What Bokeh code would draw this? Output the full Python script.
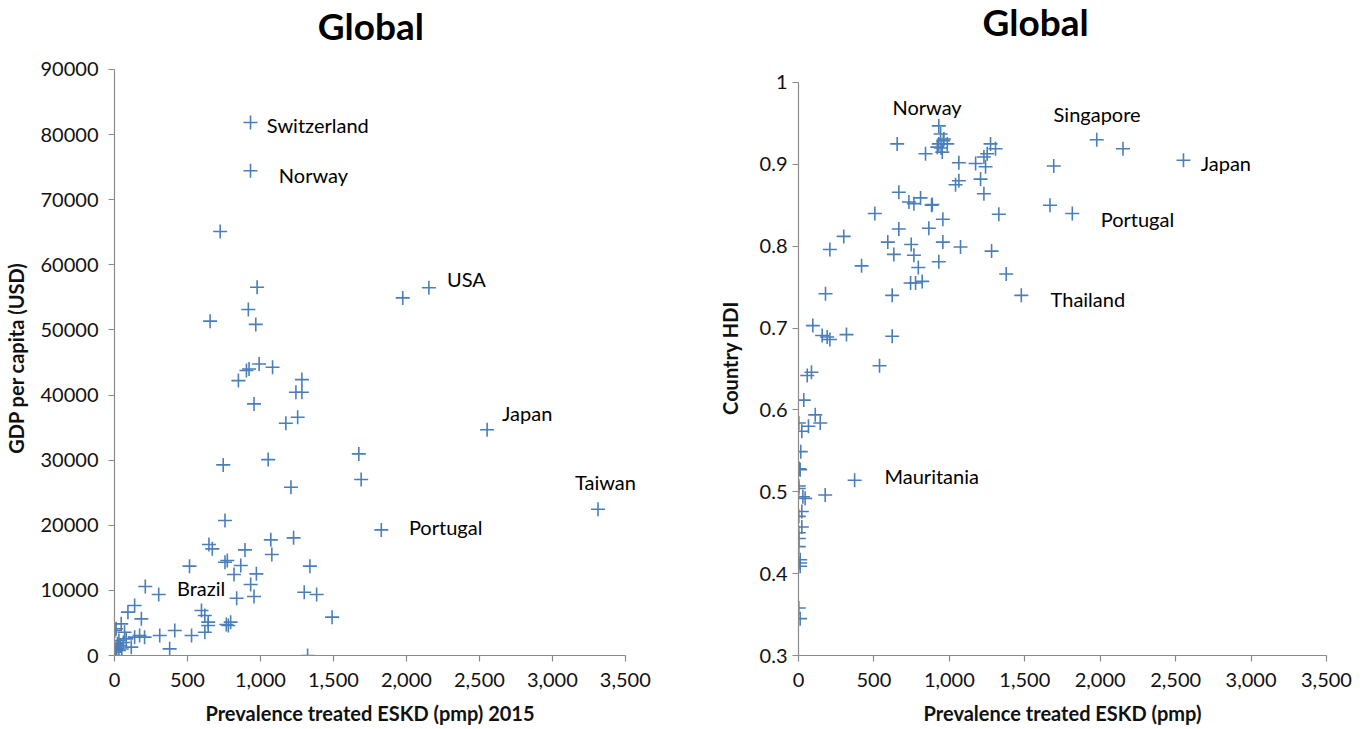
from bokeh.plotting import figure
from bokeh.layouts import row
from bokeh.models import ColumnDataSource, Range1d, FixedTicker, NumeralTickFormatter, Label
from bokeh.core.properties import value
from bokeh.embed import file_html
from bokeh.resources import INLINE

# ---------------- data: left panel (GDP per capita vs prevalence) ----------------
gdp_eskd = [932, 932, 724, 977, 917, 655, 968, 1975, 2154,
            991, 922, 904, 1083, 849, 1284, 1243, 1284, 956, 1255, 1174,
            1674, 1053, 745, 1690, 1209, 757, 1828, 1227, 1071, 647,
            670, 894, 1078, 773, 757, 865, 514, 1339, 819, 972,
            933, 211, 303, 1300, 1385, 837, 956, 596, 619, 1491,
            642, 642, 766, 796, 780, 413, 310, 528, 619, 378,
            1323, 2553, 3313,
            138, 92, 184, 46, 11, 3, 69, 172, 138, 206,
            80, 115, 30, 20, 2, 15, 30, 4, 10, 40, 50, 60]
gdp_usd = [81870, 74460, 65110, 56560, 53130, 51350, 50850, 54920, 56490,
           44780, 44010, 43760, 44270, 42220, 42370, 40430, 40430, 38640, 36590, 35670,
           30960, 30090, 29270, 27020, 25840, 20730, 19290, 18070, 17760, 17040,
           16380, 16220, 15510, 14590, 14330, 13820, 13720, 13720, 12440, 12540,
           10900, 10590, 9370, 9720, 9370, 8800, 9060, 6910, 6140, 5890,
           5120, 4610, 4760, 5120, 4610, 3840, 3070, 3070, 3580, 1020,
           0, 34660, 22470,
           7680, 6660, 5630, 4860, 4100, 3840, 3580, 3070, 2820, 2820,
           2560, 1280, 2300, 1790, 1280, 1020, 770, 510, 0, 1500, 1000, 2000]

gdp_label_names = ["Switzerland", "Norway", "USA", "Japan", "Taiwan", "Portugal", "Brazil"]
gdp_label_x = [1044, 1126, 2278, 2655, 3155, 2017, 428]
gdp_label_y = [81550, 73720, 57900, 37320, 26720, 19810, 10440]

# ---------------- data: right panel (HDI vs prevalence) ----------------
hdi_eskd = [930, 942, 964, 930, 986, 920, 953, 960, 945,
            654, 842, 1063, 1174, 1240, 1273, 1306, 1251, 1229, 1063, 1041,
            1207, 1229, 665, 732, 765, 809, 887, 1328,
            1977, 2151, 2552, 1692, 1667, 1815,
            506, 300, 208, 418, 179, 95, 157, 190, 208, 318, 621, 537, 58, 86, 35,
            665, 592, 632, 747, 765, 794, 743, 776, 820, 621, 864, 930, 957, 957, 1074,
            882, 1280, 1377, 1477,
            111, 144, 2, 66, 22, 15, 2, 11, 5, 2, 2, 29, 44, 177, 22, 2, 22, 2, 2, 2,
            11, 11, 11, 2, 11, 372]
hdi_value = [0.947, 0.937, 0.931, 0.925, 0.925, 0.921, 0.915, 0.929, 0.920,
             0.925, 0.913, 0.902, 0.901, 0.897, 0.925, 0.919, 0.913, 0.909, 0.880, 0.875,
             0.882, 0.864, 0.866, 0.854, 0.852, 0.859, 0.851, 0.839,
             0.930, 0.919, 0.905, 0.898, 0.850, 0.840,
             0.840, 0.812, 0.796, 0.776, 0.742, 0.703, 0.691, 0.689, 0.686, 0.692, 0.690, 0.654, 0.642, 0.646, 0.612,
             0.821, 0.805, 0.790, 0.802, 0.789, 0.774, 0.755, 0.755, 0.757, 0.740, 0.822, 0.781, 0.833, 0.805, 0.799,
             0.850, 0.794, 0.766, 0.740,
             0.594, 0.584, 0.584, 0.580, 0.574, 0.549, 0.528, 0.527, 0.528, 0.507, 0.504, 0.494, 0.492, 0.496, 0.476, 0.470, 0.457, 0.450, 0.443, 0.433,
             0.417, 0.413, 0.409, 0.358, 0.345, 0.514]

hdi_label_names = ["Norway", "Singapore", "Japan", "Portugal", "Thailand", "Mauritania"]
hdi_label_x = [623, 1691, 2666, 2003, 1671, 570]
hdi_label_y = [0.9695, 0.962, 0.902, 0.833, 0.735, 0.519]

x_ticks = [0, 500, 1000, 1500, 2000, 2500, 3000, 3500]
gdp_ticks = [0, 10000, 20000, 30000, 40000, 50000, 60000, 70000, 80000, 90000]
hdi_ticks = [0.3, 0.4, 0.5, 0.6, 0.7, 0.8, 0.9, 1.0]
hdi_tick_labels = ["0.3", "0.4", "0.5", "0.6", "0.7", "0.8", "0.9", "1"]

titles = ["Global", "Global"]
x_titles = ["Prevalence treated ESKD (pmp) 2015", "Prevalence treated ESKD (pmp)"]
y_titles = ["GDP per capita (USD)", "Country HDI"]

# ---------------- styling ----------------
FONT = "Lato"
BLUE = "#4a7ebb"
AXIS_GREY = "#8a8a8a"
TXT = "#111111"
EM = "\u2003"  # em space, used only to nudge centred axis titles


def style_axes(p, ytick_standoff, ylab_standoff):
    for ax in (p.xaxis[0], p.yaxis[0]):
        ax.axis_line_color = AXIS_GREY
        ax.axis_line_width = 1.2
        ax.major_tick_line_color = AXIS_GREY
        ax.major_tick_line_width = 1.2
        ax.major_tick_in = 0
        ax.major_tick_out = 6
        ax.minor_tick_line_color = None
        ax.major_label_text_font = FONT
        ax.major_label_text_font_size = "20px"
        ax.major_label_text_color = TXT
        ax.axis_label_text_font = FONT
        ax.axis_label_text_font_style = "bold"
        ax.axis_label_text_font_size = "20px"
        ax.axis_label_text_color = TXT
    p.xaxis[0].major_label_standoff = 11
    p.xaxis[0].axis_label_standoff = 11
    p.yaxis[0].major_label_standoff = ytick_standoff
    p.yaxis[0].axis_label_standoff = ylab_standoff
    p.xgrid.visible = False
    p.ygrid.visible = False
    p.outline_line_color = None


# ---------------- left figure ----------------
p1 = figure(width=680, height=729, output_backend="svg", toolbar_location=None,
            x_range=Range1d(0, 3604), y_range=Range1d(0, 100597),
            min_border_left=114, min_border_right=40, min_border_top=0, min_border_bottom=74,
            x_axis_label=x_titles[0] + EM, y_axis_label=y_titles[0] + EM * 4)
p1.xaxis[0].ticker = FixedTicker(ticks=x_ticks)
p1.xaxis[0].formatter = NumeralTickFormatter(format="0,0")
p1.xaxis[0].bounds = (0, 3500)
p1.yaxis[0].ticker = FixedTicker(ticks=gdp_ticks)
p1.yaxis[0].formatter = NumeralTickFormatter(format="0")
p1.yaxis[0].bounds = (0, 90000)
style_axes(p1, ytick_standoff=10, ylab_standoff=10)
p1.add_layout(Label(x=1757, y=96757, text=titles[0], text_font=FONT, text_font_size="37px",
                    text_font_style="bold", text_align="center", text_baseline="middle",
                    text_color="#000000"))

src1 = ColumnDataSource(dict(x=gdp_eskd, y=gdp_usd))
p1.scatter("x", "y", source=src1, marker="cross", size=14, line_color=BLUE, line_width=1.6)
lab1 = ColumnDataSource(dict(x=gdp_label_x, y=gdp_label_y, t=gdp_label_names))
p1.text("x", "y", text="t", source=lab1, text_font=value(FONT), text_font_size="20px",
        text_align="left", text_baseline="middle", text_color="#000000")

# ---------------- right figure ----------------
p2 = figure(width=680, height=729, output_backend="svg", toolbar_location=None,
            x_range=Range1d(0, 3500), y_range=Range1d(0.3, 1.10017),
            min_border_left=118, min_border_right=34, min_border_top=0, min_border_bottom=74,
            x_axis_label=x_titles[1], y_axis_label=y_titles[1] + EM * 4)
p2.xaxis[0].ticker = FixedTicker(ticks=x_ticks)
p2.xaxis[0].formatter = NumeralTickFormatter(format="0,0")
p2.yaxis[0].ticker = FixedTicker(ticks=hdi_ticks)
p2.yaxis[0].major_label_overrides = {t: s for t, s in zip(hdi_ticks, hdi_tick_labels)}
p2.yaxis[0].bounds = (0.3, 1.0)
style_axes(p2, ytick_standoff=5, ylab_standoff=15)
p2.add_layout(Label(x=1572, y=1.0745, text=titles[1], text_font=FONT, text_font_size="37px",
                    text_font_style="bold", text_align="center", text_baseline="middle",
                    text_color="#000000"))

src2 = ColumnDataSource(dict(x=hdi_eskd, y=hdi_value))
p2.scatter("x", "y", source=src2, marker="cross", size=14, line_color=BLUE, line_width=1.6)
lab2 = ColumnDataSource(dict(x=hdi_label_x, y=hdi_label_y, t=hdi_label_names))
p2.text("x", "y", text="t", source=lab2, text_font=value(FONT), text_font_size="20px",
        text_align="left", text_baseline="middle", text_color="#000000")

layout = row(p1, p2)
open("out.html", "w").write(file_html(layout, INLINE))
